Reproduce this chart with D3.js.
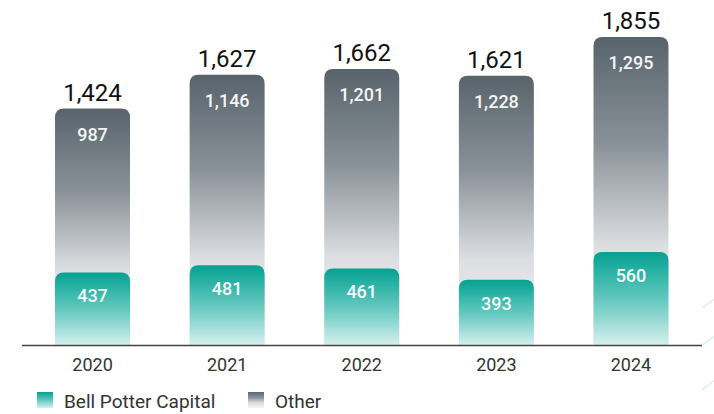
<!DOCTYPE html>
<html>
<head>
<meta charset="utf-8">
<script src="https://cdn.jsdelivr.net/npm/d3@7"></script>
<style>
  html, body { margin: 0; padding: 0; background: #ffffff; }
  svg { display: block; font-family: Roboto, "Noto Sans", sans-serif; }
</style>
</head>
<body>
<svg id="chart" width="714" height="414"></svg>
<script>
// Revenue split by year
const years = ["2020", "2021", "2022", "2023", "2024"];
const bellPotterCapital = [437, 481, 461, 393, 560];
const other = [987, 1146, 1201, 1228, 1295];
const totals = [1424, 1627, 1662, 1621, 1855];
const seriesNames = ["Bell Potter Capital", "Other"];

const fmt = d3.format(",");
const svg = d3.select("#chart");
const defs = svg.append("defs");

// Vertical gradients for the two series
const grayGrad = defs.append("linearGradient")
  .attr("id", "gradOther").attr("x1", 0).attr("y1", 0).attr("x2", 0).attr("y2", 1);
grayGrad.selectAll("stop").data([
  { o: 0, c: "#58636b" },
  { o: 0.35, c: "#8a9299" },
  { o: 0.68, c: "#dcdee1" },
  { o: 1, c: "#f4f4f6" }
]).join("stop").attr("offset", d => d.o).attr("stop-color", d => d.c);

const tealGrad = defs.append("linearGradient")
  .attr("id", "gradBPC").attr("x1", 0).attr("y1", 0).attr("x2", 0).attr("y2", 1);
tealGrad.selectAll("stop").data([
  { o: 0, c: "#08a092" },
  { o: 0.12, c: "#1aab9d" },
  { o: 0.55, c: "#6ccbc2" },
  { o: 1, c: "#d6f0ed" }
]).join("stop").attr("offset", d => d.o).attr("stop-color", d => d.c);

const baseY = 345;
const x = d3.scaleBand().domain(years).range([25, 698.5])
  .paddingInner(0.443).paddingOuter(0.223);
const y = d3.scaleLinear().domain([0, d3.max(totals)]).range([baseY, 37]);

const r = 9;
// Bar path with rounded top corners and square bottom
function topRounded(x0, y0, w, h) {
  const rr = Math.min(r, h / 2, w / 2);
  return `M${x0},${y0 + h}V${y0 + rr}Q${x0},${y0} ${x0 + rr},${y0}` +
         `H${x0 + w - rr}Q${x0 + w},${y0} ${x0 + w},${y0 + rr}V${y0 + h}Z`;
}

const rows = years.map((yr, i) => ({
  year: yr, bpc: bellPotterCapital[i], other: other[i], total: totals[i]
}));

// Other bars span full total height, behind the Bell Potter Capital segment
svg.append("g").selectAll("path").data(rows).join("path")
  .attr("d", d => topRounded(x(d.year), y(d.total), x.bandwidth(), baseY - y(d.total)))
  .attr("fill", "url(#gradOther)");

svg.append("g").selectAll("path").data(rows).join("path")
  .attr("d", d => topRounded(x(d.year), y(d.bpc), x.bandwidth(), baseY - y(d.bpc)))
  .attr("fill", "url(#gradBPC)");

// Total labels above bars
svg.append("g").selectAll("text").data(rows).join("text")
  .attr("x", d => x(d.year) + x.bandwidth() / 2)
  .attr("y", d => y(d.total) - 8)
  .attr("text-anchor", "middle")
  .attr("font-size", 24)
  .attr("fill", "#111")
  .text(d => fmt(d.total));

// Other value labels inside bar tops
svg.append("g").selectAll("text").data(rows).join("text")
  .attr("x", d => x(d.year) + x.bandwidth() / 2)
  .attr("y", d => y(d.total) + 32)
  .attr("text-anchor", "middle")
  .attr("font-size", 18)
  .attr("font-weight", 500)
  .attr("fill", "#f4f5f6")
  .text(d => fmt(d.other));

// Bell Potter Capital labels
svg.append("g").selectAll("text").data(rows).join("text")
  .attr("x", d => x(d.year) + x.bandwidth() / 2)
  .attr("y", d => y(d.bpc) + 30)
  .attr("text-anchor", "middle")
  .attr("font-size", 18)
  .attr("font-weight", 500)
  .attr("fill", "#f4fbfa")
  .text(d => fmt(d.bpc));

// Baseline axis with year labels
const axis = svg.append("g").attr("transform", `translate(0,${baseY})`)
  .call(d3.axisBottom(x).tickSize(0).tickPadding(13));
axis.attr("font-size", null).attr("font-family", null);
axis.select(".domain").attr("d", "M22,0.5H702").attr("stroke", "#444").attr("stroke-width", 1.3);
axis.selectAll("text").attr("font-size", 18).attr("fill", "#333")
  .style("font-family", "Roboto, sans-serif");

// Legend
const legend = svg.append("g").attr("transform", "translate(0,392)");
const legendItems = [
  { name: seriesNames[0], fill: "url(#gradBPC)", x: 37 },
  { name: seriesNames[1], fill: "url(#gradOther)", x: 248 }
];
const li = legend.selectAll("g").data(legendItems).join("g")
  .attr("transform", d => `translate(${d.x},0)`);
li.append("rect").attr("width", 16).attr("height", 16).attr("fill", d => d.fill);
li.append("text").attr("x", 27).attr("y", 16)
  .attr("font-size", 19).attr("fill", "#333").text(d => d.name);

// Decorative diagonal strokes at the right edge
const deco = [[702, 308, 716, 298], [702, 345, 716, 335], [702, 390, 716, 379]];
svg.append("g").selectAll("line").data(deco).join("line")
  .attr("x1", d => d[0]).attr("y1", d => d[1]).attr("x2", d => d[2]).attr("y2", d => d[3])
  .attr("stroke", "#bfe6ea").attr("stroke-width", 1);
</script>
</body>
</html>
